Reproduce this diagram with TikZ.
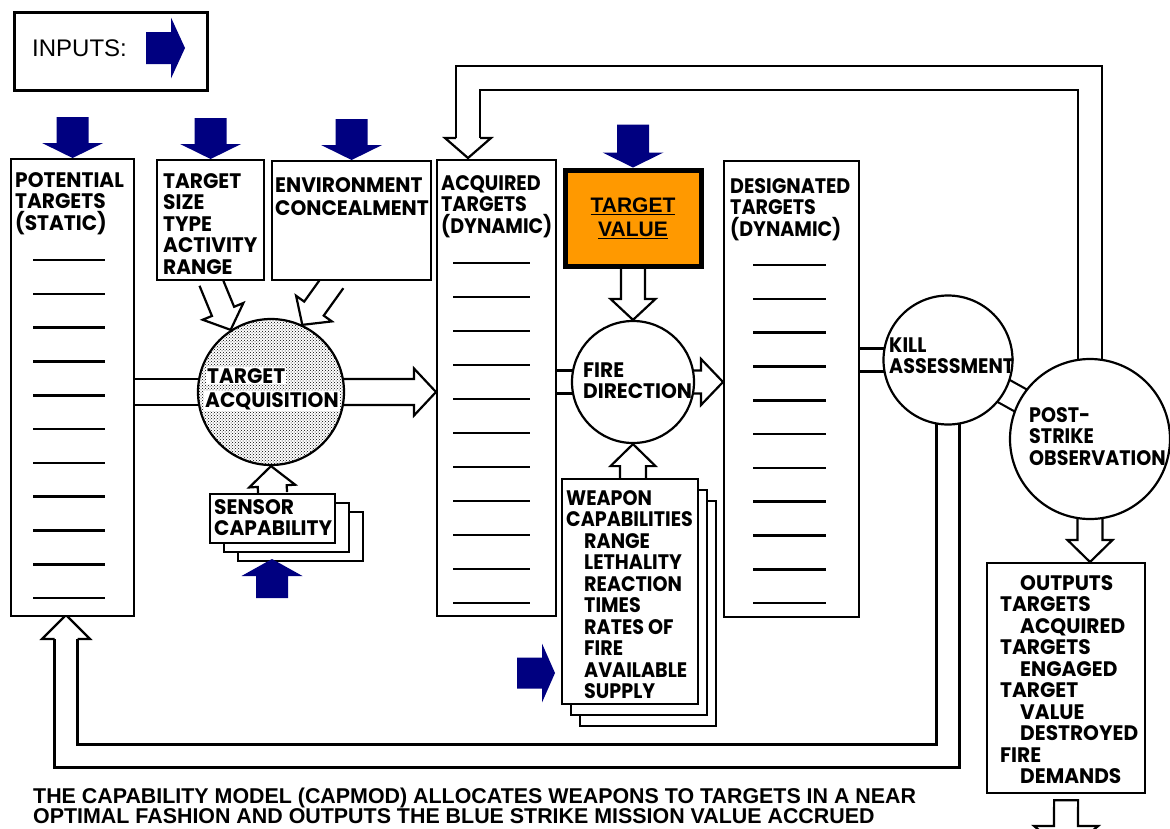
\documentclass[tikz,border=0pt]{standalone}
\usepackage{fontspec}
\usetikzlibrary{calc,patterns,shadows}
\newfontfamily\lettering{Poppins}[FakeStretch=0.96]
\newfontfamily\narrowlettering{Poppins}[FakeStretch=0.91]
\newfontfamily\arialfont{Liberation Sans}
\definecolor{inblue}{RGB}{0,0,128}
\definecolor{valorange}{RGB}{255,153,0}
\pgfdeclarelayer{bg}
\pgfsetlayers{bg,main}
\tikzset{
  fat shaft/.store in=\fatw, fat shaft=12pt,
  fat head/.store in=\fath, fat head=22pt,
  fat len/.store in=\fatl, fat len=20pt,
  fat/.style={line width=2.2pt, to path={
      ($(\tikztostart)!\fatw!90:(\tikztotarget)$)
      -- ($(\tikztotarget)!\fatl!(\tikztostart)!\fatw!90:(\tikztotarget)$)
      -- ($(\tikztotarget)!\fatl!(\tikztostart)!\fath!90:(\tikztotarget)$)
      -- (\tikztotarget)
      -- ($(\tikztotarget)!\fatl!(\tikztostart)!\fath!-90:(\tikztotarget)$)
      -- ($(\tikztotarget)!\fatl!(\tikztostart)!\fatw!-90:(\tikztotarget)$)
      -- ($(\tikztostart)!\fatw!-90:(\tikztotarget)$)}},
  inarrow/.style={fat, inblue, fat shaft=16pt, fat head=30.5pt, fat len=15pt},
  band/.style={double=white, double distance=#1, line width=2.2pt},
  band/.default=20.8pt,
  panel/.style={draw, line width=2.2pt, fill=white, anchor=north west, inner sep=0pt},
  bubble/.style={circle, draw, line width=2.2pt, fill=white, inner sep=0pt},
  lbl/.style={anchor=north west, inner sep=0pt, align=left,
    font=\lettering\bfseries\fontsize{21}{21.5}\selectfont},
  narrow/.style={font=\narrowlettering\bfseries\fontsize{21}{21.5}\selectfont},
  dashline/.style={line width=2.6pt},
}

\begin{document}
\begin{tikzpicture}[x=1pt, y=-1pt]
  \useasboundingbox (0,0) rectangle (1170,828);

  \node[panel, minimum width=193, minimum height=78, line width=2.6pt] (inputs) at (13,11) {};
  \node[anchor=west, inner sep=0pt, font=\arialfont\fontsize{24}{24}\selectfont] (inputslbl) at (32,48) {INPUTS:};
  \coordinate (legtail) at (146,48);
  \coordinate (legtip) at (185,48);
  \fill[inarrow, fat len=14pt] (legtail) to (legtip);

  \node[panel, minimum width=123, minimum height=457] (pot) at (10,158) {};
  \node[lbl] (potlbl) at (15,172) {POTENTIAL\\TARGETS\\(STATIC)};
  \node[panel, minimum width=107, minimum height=120] (tsz) at (156,159) {};
  \node[lbl] (tszlbl) at (163,173) {TARGET\\SIZE\\TYPE\\ACTIVITY\\RANGE};
  \node[panel, minimum width=159, minimum height=119] (env) at (271,160) {};
  \node[lbl] (envlbl) at (275,177) {ENVIRONMENT\\[1.5pt]CONCEALMENT};
  \node[panel, minimum width=119, minimum height=456] (acq) at (436,159) {};
  \node[lbl, narrow] (acqlbl) at (441,175) {ACQUIRED\\TARGETS\\(DYNAMIC)};
  \node[panel, anchor=center, line width=5pt, fill=valorange, minimum width=136, minimum height=96,
    align=center, font=\arialfont\bfseries\fontsize{21}{24}\selectfont] (tv) at (633,218) {\underline{TARGET}\\\underline{VALUE}};
  \node[panel, minimum width=135, minimum height=456] (desig) at (723,160) {};
  \node[lbl, narrow] (desiglbl) at (730,178) {DESIGNATED\\TARGETS\\(DYNAMIC)};

  \foreach \k in {0,...,10} {
    \draw[dashline] (33,{260+33.8*\k}) -- (105,{260+33.8*\k});
    \draw[dashline] (453,{263+34*\k}) -- (530,{263+34*\k});
    \draw[dashline] (753,{265+33.8*\k}) -- (826,{265+33.8*\k});
  }

  \node[bubble, minimum size=146, postaction={pattern=crosshatch dots}] (ta) at (271,392) {};
  \node[lbl, fill=white, inner sep=1pt] (talbl1) at (206,367) {TARGET};
  \node[lbl, fill=white, inner sep=1pt] (talbl2) at (204,391) {ACQUISITION};
  \node[bubble, minimum size=122] (fire) at (633,382) {};
  \node[lbl] (firelbl) at (583,363) {FIRE\\[-1pt]DIRECTION};
  \node[bubble, minimum size=129] (kill) at (948,360) {};
  \node[lbl, narrow] (killlbl) at (889,338) {KILL\\[-1pt]ASSESSMENT};
  \node[bubble, minimum size=160] (post) at (1090,439) {};
  \node[lbl, narrow] (postlbl) at (1029,407) {POST-\\STRIKE\\OBSERVATION};

  \node[panel, minimum width=125, minimum height=49,
    double copy shadow={shadow xshift=14pt, shadow yshift=-9pt}] (sns) at (209,493) {};
  \node[lbl] (snslbl) at (214,499) {SENSOR\\CAPABILITY};
  \node[panel, minimum width=136, minimum height=225,
    double copy shadow={shadow xshift=9pt, shadow yshift=-11pt}] (wpn) at (561,478) {};
  \node[lbl, narrow] (wpnlbl) at (566,490) {WEAPON\\CAPABILITIES\\\hspace*{18pt}RANGE\\\hspace*{18pt}LETHALITY\\
    \hspace*{18pt}REACTION\\\hspace*{18pt}TIMES\\\hspace*{18pt}RATES OF\\\hspace*{18pt}FIRE\\
    \hspace*{18pt}AVAILABLE\\\hspace*{18pt}SUPPLY};
  \node[panel, minimum width=158, minimum height=230] (out) at (986,562) {};
  \node[lbl] (outlbl) at (1000,575) {\hspace*{20pt}OUTPUTS\\TARGETS\\\hspace*{20pt}ACQUIRED\\TARGETS\\
    \hspace*{20pt}ENGAGED\\TARGET\\\hspace*{20pt}VALUE\\\hspace*{20pt}DESTROYED\\FIRE\\\hspace*{20pt}DEMANDS};

  \node[anchor=north west, inner sep=0pt, align=left,
    font=\arialfont\bfseries\fontsize{21.4}{20}\selectfont] (caption) at (33,788)
    {THE CAPABILITY MODEL (CAPMOD) ALLOCATES WEAPONS TO TARGETS IN A NEAR\\
     OPTIMAL FASHION AND OUTPUTS THE BLUE STRIKE MISSION VALUE ACCRUED};

  \coordinate (topbend) at (468,78);
  \coordinate (acqhead) at (468,138);
  \coordinate (acqin) at (468,158);
  \coordinate (botbend) at (66,756);
  \coordinate (pothead) at (66,639);
  \coordinate (potin) at (66,615);
  \coordinate (outdown) at (1066,853);
  \coordinate (snsin) at (272,559);
  \coordinate (wpntail) at (517,673);
  \coordinate (wpnin) at (555,673);

  \fill[inarrow] ([yshift=41pt]pot.north) to (pot.north);
  \fill[inarrow] ([yshift=41pt]tsz.north) to (tsz.north);
  \fill[inarrow] ([yshift=41pt]env.north) to (env.north);
  \fill[inarrow] ([yshift=43pt]tv.north) to (tv.north);
  \fill[inarrow, fat len=17pt] ([yshift=-39pt]snsin) to (snsin);
  \fill[inarrow, fat shaft=15.5pt, fat head=29.5pt, fat len=13pt] (wpntail) to (wpnin);

  \begin{pgfonlayer}{bg}
    \draw[band=23.8pt] (pot.east |- ta.center) -- (ta.center);
    \draw[fat, fat shaft=13pt, fat head=23.5pt, fat len=22pt] (ta.center) to (acq.west |- ta.center);
    \draw[fat] (tsz.south) to (ta.123);
    \draw[fat] ([xshift=-18pt]env.south) to (ta.65);
    \draw[fat, fat shaft=14.5pt, fat head=23pt] (sns.north) to (ta.south);
    \draw[band] (acq.east |- fire.center) -- (fire.center);
    \draw[fat, fat shaft=11.5pt, fat head=23pt, fat len=22pt] (fire.center) to (desig.west |- fire.center);
    \draw[fat, fat head=22.5pt, fat len=21pt] (tv.south) to (fire.north);
    \draw[fat, fat shaft=13pt, fat head=22.5pt, fat len=22pt] (wpn.north -| fire.south) to (fire.south);
    \draw[band] (desig.east |- kill.center) -- (kill.center);
    \draw[band=22.8pt] (kill.center) -- (post.center);
    \draw[fat, fat shaft=12.5pt, fat head=22.5pt, fat len=22pt] (post.center) to (post.center |- out.north);
    \draw[fat, fat head=32pt, fat len=27pt] ([yshift=-6pt]out.south) to (outdown) -- cycle;
    \draw[band=21.8pt] (post.center) |- (topbend) -- (acqhead);
    \draw[fat, fat shaft=12pt, fat head=23pt] (acqhead) to (acqin);
    \draw[band] (kill.center) |- (botbend) -- (pothead);
    \draw[fat, fat shaft=11.5pt, fat head=24pt, fat len=24pt] (pothead) to (potin);
  \end{pgfonlayer}
\end{tikzpicture}
\end{document}
